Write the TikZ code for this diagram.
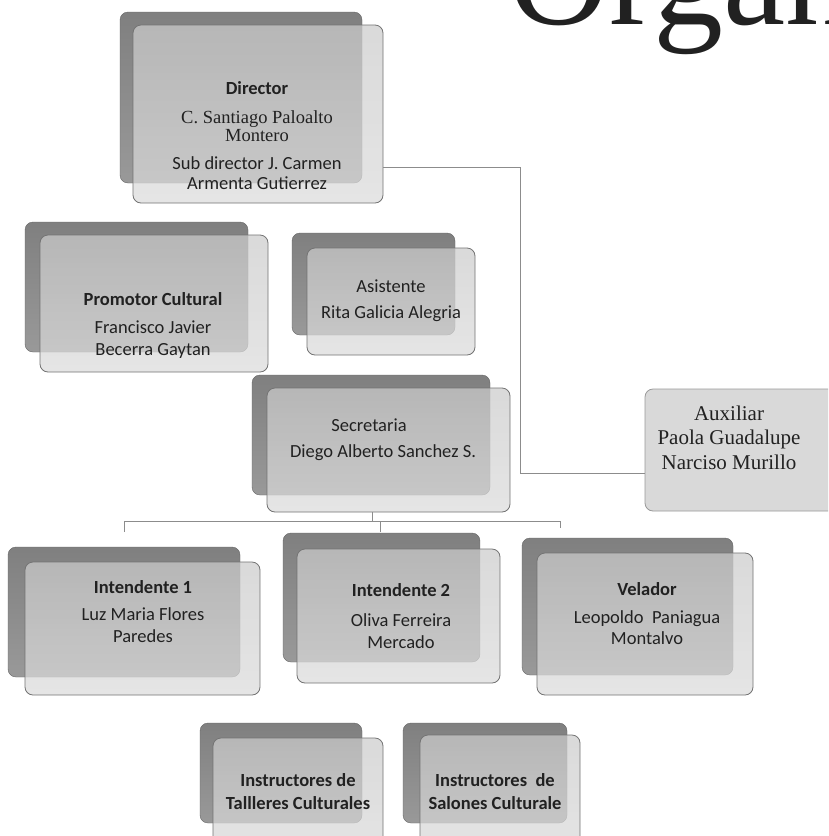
\documentclass[tikz,border=0pt]{standalone}
\usepackage{fontspec}
\setmainfont{Carlito}
\newfontfamily\timesf{Liberation Serif}
\usetikzlibrary{positioning}
\definecolor{backtop}{gray}{0.5}
\definecolor{backbot}{gray}{0.6}
\definecolor{fronttop}{gray}{0.8}
\definecolor{frontbot}{gray}{0.86}
\definecolor{auxgray}{gray}{0.85}
\definecolor{linegray}{gray}{0.55}
\definecolor{inkgray}{gray}{0.13}
\tikzstyle{backbox}=[draw=black!60, top color=backtop, bottom color=backbot, rounded corners=8pt, inner sep=0pt, outer sep=0pt]
\tikzstyle{frontbox}=[draw=black!55, line width=0.8pt, top color=fronttop, bottom color=frontbot, fill opacity=0.72, rounded corners=8pt, inner sep=0pt, outer sep=0pt]
\tikzstyle{auxbox}=[draw=black!40, line width=0.8pt, fill=auxgray, rounded corners=8pt, inner sep=0pt, outer sep=0pt]
\tikzstyle{txt}=[align=center, text=inkgray, font=\fontsize{18.5}{22}\selectfont, inner sep=0pt]
\tikzstyle{conn}=[draw=linegray, line width=0.8pt]

\begin{document}
\begin{tikzpicture}[x=1pt,y=-1pt]
	\useasboundingbox (0,0) rectangle (828,836);
	\clip (0,0) rectangle (828,836);
	\fill[white] (0,0) rectangle (828,836);
	% titulo
	\node[anchor=base west, text=inkgray, font=\timesf\fontsize{140}{140}\selectfont, inner sep=0pt] (titulo) at (508,24) {Organigrama};
	% director
	\node[backbox, minimum width=242pt, minimum height=171pt] (dirB) at (241,97.5) {};
	\node[frontbox, minimum width=250pt, minimum height=178pt] (dir) at (258,114) {};
	\node[txt, font=\fontsize{18.5}{19}\selectfont] (dirT) at (257,135.5) {\textbf{Director}\\[10pt]
		{\timesf C. Santiago Paloalto}\\[-1pt]
		{\timesf Montero}\\[9pt]
		Sub director J. Carmen\\[1pt]
		Armenta Gutierrez};
	% promotor y asistente
	\node[backbox, minimum width=223pt, minimum height=130pt] (proB) at (136.5,287) {};
	\node[frontbox, minimum width=228pt, minimum height=137pt] (pro) at (154,303.5) {};
	\node[txt] (proT) at (153,325) {\textbf{Promotor Cultural}\\[6pt] Francisco Javier\\ Becerra Gaytan};
	\node[backbox, minimum width=163pt, minimum height=102pt] (asiB) at (373.5,284) {};
	\node[frontbox, minimum width=168pt, minimum height=107pt] (asi) at (391,301.5) {};
	\node[txt] (asiT) at (391,301) {Asistente\\[4pt] Rita Galicia Alegria};
	% secretaria
	\node[backbox, minimum width=238pt, minimum height=120pt] (secB) at (371,435) {};
	\node[frontbox, minimum width=243pt, minimum height=124pt] (sec) at (388.5,450) {};
	\node[txt] (secT) at (383,440) {Secretaria\hspace*{28pt}\\[4pt] Diego Alberto Sanchez S.};
	% auxiliar
	\node[auxbox, minimum width=205pt, minimum height=122pt] (aux) at (747.5,450) {};
	\node[txt, font=\timesf\fontsize{21}{24.5}\selectfont] (auxT) at (729,437.5) {Auxiliar\\ Paola Guadalupe\\ Narciso Murillo};
	% intendentes y velador
	\node[backbox, minimum width=232pt, minimum height=130pt] (int1B) at (124,612) {};
	\node[frontbox, minimum width=235pt, minimum height=133pt] (int1) at (142.5,628.5) {};
	\node[txt] (int1T) at (143,612) {\textbf{Intendente 1}\\[5pt] Luz Maria Flores\\ Paredes};
	\node[backbox, minimum width=197pt, minimum height=129pt] (int2B) at (381.5,597.5) {};
	\node[frontbox, minimum width=203pt, minimum height=134pt] (int2) at (398.5,616) {};
	\node[txt] (int2T) at (401,616.5) {\textbf{Intendente 2}\\[8pt] Oliva Ferreira\\ Mercado};
	\node[backbox, minimum width=211pt, minimum height=137pt] (velB) at (627.5,606.5) {};
	\node[frontbox, minimum width=216pt, minimum height=142pt] (vel) at (645,624) {};
	\node[txt, font=\fontsize{18.5}{21}\selectfont] (velT) at (647,613.5) {\textbf{Velador}\\[7pt] Leopoldo~ Paniagua\\ Montalvo};
	% instructores
	\node[backbox, minimum width=162pt, minimum height=100pt] (talB) at (281,773) {};
	\node[frontbox, minimum width=170pt, minimum height=120pt] (tal) at (298,798) {};
	\node[txt, font=\bfseries\fontsize{18.5}{23}\selectfont] (talT) at (298,791.5) {Instructores de\\ Tallleres Culturales};
	\node[backbox, minimum width=164pt, minimum height=100pt] (salB) at (485,773) {};
	\node[frontbox, minimum width=160pt, minimum height=123pt] (sal) at (500,796.5) {};
	\node[txt, font=\bfseries\fontsize{18.5}{23}\selectfont] (salT) at (495,791.5) {Instructores~ de\\ Salones Culturale};
	% lineas
	\coordinate (auxcodo) at (520,473);
	\coordinate (bus) at (372,521);
	\coordinate (busL) at (124,521);
	\coordinate (busM) at (380,521);
	\coordinate (busR) at (560,521);
	\draw[conn] (dir.east |- 0,167) -| (auxcodo) -- (aux.west |- auxcodo);
	\draw[conn] (sec.south -| bus) -- (bus);
	\draw[conn] (busL) ++(0,11) -- (busL) -- (busR) -- ++(0,7);
	\draw[conn] (busM) -- ++(0,11);
\end{tikzpicture}
\end{document}
